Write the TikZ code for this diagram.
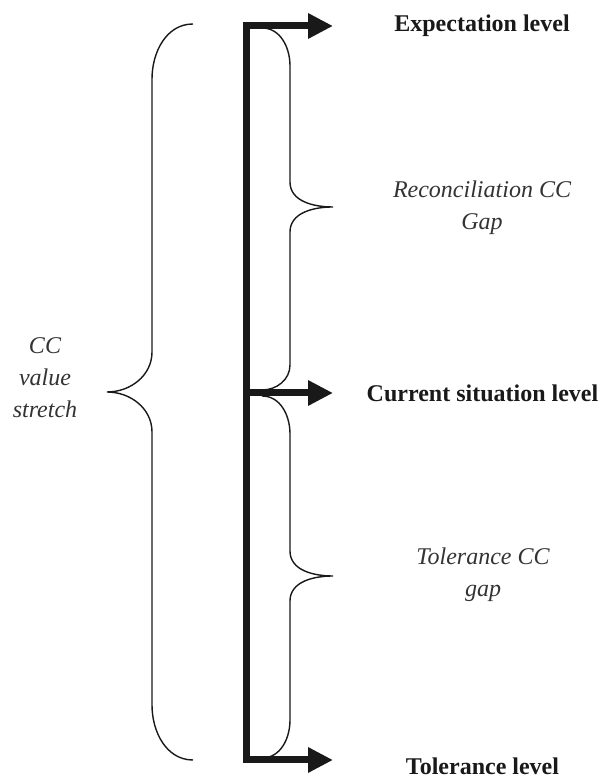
\documentclass[tikz,border=0pt]{standalone}
\usepackage{fontspec}
\setmainfont{Liberation Serif}
\usepackage{tikz}
\usetikzlibrary{arrows.meta}

\tikzset{
  levelarrow/.style={line width=7pt, line join=miter, draw=black!90, -{Triangle[length=25pt,width=24pt]}},
  gapbrace/.style={line width=1.4pt, draw=black!90},
  levellabel/.style={font=\fontsize{24}{30}\selectfont\bfseries, text=black!90, inner sep=0pt},
  gaplabel/.style={font=\fontsize{24}{32}\selectfont\itshape, text=black!80, align=center, inner sep=0pt}
}

\begin{document}
\begin{tikzpicture}[x=1pt,y=1pt]
\useasboundingbox (0,0) rectangle (605,778);
% level line
\coordinate (top) at (246.5,752);
\coordinate (mid) at (246.5,385);
\coordinate (bot) at (246.5,18);
\coordinate (exptip) at (333,752);
\coordinate (curtip) at (333,385);
\coordinate (toltip) at (333,18);
\draw[levelarrow,{Triangle[length=25pt,width=24pt]}-{Triangle[length=25pt,width=24pt]}] (exptip) -- (top) -- (bot) -- (toltip);
\draw[levelarrow] (mid) -- (curtip);
% levels
\node[levellabel, anchor=base] (explevel) at (482,746) {Expectation level};
\node[levellabel, anchor=base] (curlevel) at (482.5,376) {Current situation level};
\node[levellabel, anchor=base] (tollevel) at (482.5,4) {Tolerance level};
% gaps
\draw[gapbrace] (262,750) to[out=0,in=90] (290,712) -- (290,596) to[out=-90,in=180] (333,571) to[out=180,in=90] (290,546) -- (290,413) to[out=-90,in=0] (262,388);
\draw[gapbrace] (262,382) to[out=0,in=90] (290,344) -- (290,227) to[out=-90,in=180] (333,202) to[out=180,in=90] (290,177) -- (290,58) to[out=-90,in=0] (262,20);
\draw[gapbrace] (193,754) to[out=180,in=90] (152,699) -- (152,426) to[out=-90,in=0] (107,386) to[out=0,in=90] (152,346) -- (152,73) to[out=-90,in=180] (193,18);
\node[gaplabel] (recgap) at (482,570) {Reconciliation CC\\Gap};
\node[gaplabel] (tolgap) at (483,203) {Tolerance CC\\gap};
\node[gaplabel] (stretch) at (45,400) {CC\\value\\stretch};
\end{tikzpicture}
\end{document}
